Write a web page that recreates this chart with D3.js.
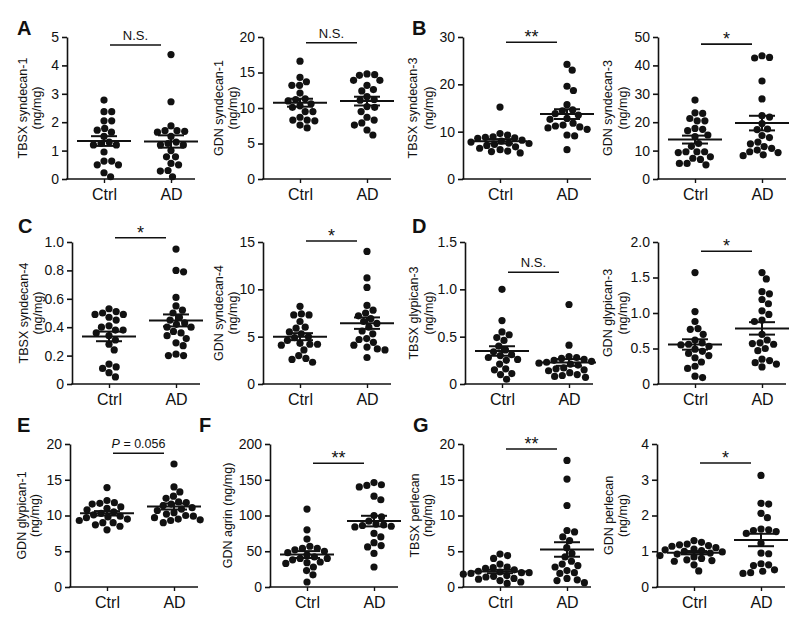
<!DOCTYPE html>
<html>
<head>
<meta charset="utf-8">
<script src="https://cdn.jsdelivr.net/npm/d3@7"></script>
<style>
  body { margin: 0; background: #fff; }
  text { font-family: "Liberation Sans", Arial, sans-serif; fill: #111; }
</style>
</head>
<body>
<svg id="chart" width="800" height="622"></svg>
<script>
// ---- data (ng/mg) ----
const groups = ['Ctrl', 'AD'];

const tbsxSyn1Ctrl = [2.78, 2.37, 2.37, 2.05, 2.05, 1.78, 1.65, 1.72, 1.3, 1.5, 1.25, 1.2, 1.2, 0.95, 0.63, 0.63, 0.5, 0.5, 0.22, 0.08];
const tbsxSyn1AD = [4.38, 2.72, 1.87, 1.7, 1.7, 1.68, 1.65, 1.3, 1.5, 1.2, 1.25, 1.2, 1.0, 0.78, 0.78, 0.55, 0.5, 0.3, 0.28, 0.08];
const gdnSyn1Ctrl = [16.6, 14.3, 13.7, 13.2, 13.2, 12.1, 11.3, 11.2, 11.0, 10.6, 10.3, 10.1, 9.5, 9.5, 8.7, 8.3, 8.3, 8.2, 7.6, 7.2];
const gdnSyn1AD = [14.8, 14.7, 14.6, 13.9, 13.9, 13.2, 12.6, 12.4, 11.6, 11.2, 11.1, 10.2, 10.1, 9.5, 8.7, 8.3, 7.9, 7.6, 6.9, 6.2];
const tbsxSyn3Ctrl = [15.2, 9.6, 9.3, 8.9, 8.8, 8.7, 8.6, 8.2, 8.0, 7.8, 7.6, 7.5, 7.3, 7.1, 6.8, 6.5, 6.2, 5.9, 5.8, 5.5];
const tbsxSyn3AD = [24.2, 23.0, 19.6, 18.7, 15.7, 14.6, 14.4, 13.8, 13.5, 12.8, 12.6, 11.8, 11.4, 11.2, 11.0, 10.8, 10.5, 9.3, 9.1, 6.2];
const gdnSyn3Ctrl = [27.8, 23.1, 23.3, 21.3, 20.5, 20.5, 17.8, 17.5, 17.0, 15.5, 14.9, 12.5, 11.5, 9.6, 9.6, 9.6, 9.3, 7.8, 7.3, 6.9, 5.5, 5.5, 5.0];
const gdnSyn3AD = [43.4, 42.8, 42.6, 34.5, 28.2, 22.3, 21.8, 19.5, 17.6, 17.4, 15.3, 14.6, 13.0, 12.4, 11.4, 10.8, 10.2, 9.6, 9.3, 8.5, 8.2];
const tbsxSyn4Ctrl = [0.53, 0.51, 0.50, 0.49, 0.49, 0.47, 0.45, 0.41, 0.40, 0.38, 0.38, 0.36, 0.34, 0.31, 0.28, 0.24, 0.14, 0.12, 0.11, 0.08, 0.05];
const tbsxSyn4AD = [0.95, 0.80, 0.79, 0.61, 0.55, 0.52, 0.50, 0.47, 0.45, 0.43, 0.42, 0.40, 0.40, 0.37, 0.36, 0.34, 0.32, 0.29, 0.27, 0.21, 0.20, 0.20];
const gdnSyn4Ctrl = [8.2, 7.4, 7.3, 7.3, 6.6, 6.0, 5.9, 5.5, 5.3, 5.0, 4.9, 4.6, 4.3, 4.2, 4.2, 4.1, 3.6, 3.0, 2.7, 2.6, 2.3];
const gdnSyn4AD = [14.0, 11.2, 10.2, 8.3, 7.8, 7.5, 7.2, 6.9, 6.6, 6.4, 6.0, 5.6, 5.3, 4.8, 4.7, 4.4, 4.1, 3.9, 3.7, 3.6, 2.8];
const tbsxGly3Ctrl = [1.0, 0.67, 0.55, 0.52, 0.49, 0.46, 0.36, 0.34, 0.40, 0.30, 0.28, 0.26, 0.31, 0.25, 0.21, 0.16, 0.15, 0.11, 0.10, 0.05];
const tbsxGly3AD = [0.84, 0.41, 0.29, 0.28, 0.27, 0.26, 0.25, 0.24, 0.23, 0.22, 0.21, 0.20, 0.17, 0.16, 0.15, 0.14, 0.12, 0.10, 0.09, 0.08, 0.07];
const gdnGly3Ctrl = [1.57, 1.02, 0.88, 0.78, 0.77, 0.70, 0.62, 0.58, 0.56, 0.55, 0.53, 0.49, 0.46, 0.43, 0.40, 0.37, 0.31, 0.25, 0.22, 0.11, 0.09];
const gdnGly3AD = [1.57, 1.48, 1.30, 1.27, 1.19, 1.13, 1.03, 0.98, 0.90, 0.88, 0.70, 0.62, 0.58, 0.57, 0.56, 0.50, 0.47, 0.35, 0.33, 0.30, 0.28, 0.24];
const gdnGly1Ctrl = [13.9, 12.1, 11.8, 11.7, 11.6, 11.2, 11.0, 10.8, 10.5, 10.3, 10.1, 9.9, 9.8, 9.7, 9.5, 9.3, 9.0, 9.0, 8.7, 8.5, 8.0];
const gdnGly1AD = [17.2, 14.0, 13.3, 12.7, 12.4, 11.9, 11.8, 11.6, 11.4, 11.1, 10.9, 10.7, 10.4, 10.2, 10.0, 9.9, 9.7, 9.5, 9.4, 9.3, 9.0];
const gdnAgrinCtrl = [109, 80, 67, 54, 52, 57, 45, 40, 54, 50, 48, 40, 42, 38, 35, 34, 33, 28, 23, 17, 7];
const gdnAgrinAD = [146, 143, 142, 140, 127, 122, 100, 92, 98, 88, 86, 87, 85, 84, 75, 70, 62, 58, 56, 47, 28];
const tbsxPerlCtrl = [4.6, 4.4, 4.0, 3.2, 2.8, 2.7, 2.6, 2.4, 2.2, 2.1, 2.0, 2.0, 1.9, 1.8, 1.6, 1.5, 1.4, 1.2, 1.1, 0.9, 0.7, 0.5];
const tbsxPerlAD = [17.7, 15.1, 11.4, 7.9, 7.7, 7.0, 6.5, 5.5, 4.2, 2.8, 4.7, 3.6, 3.2, 3.0, 2.3, 2.0, 1.9, 1.2, 1.0, 0.9, 0.6];
const gdnPerlCtrl = [1.30, 1.25, 1.20, 1.18, 1.16, 1.14, 1.10, 1.06, 1.04, 1.02, 1.00, 0.98, 0.95, 0.92, 0.88, 0.84, 0.80, 0.76, 0.74, 0.72, 0.62, 0.45];
const gdnPerlAD = [3.12, 2.34, 2.32, 2.06, 1.94, 1.62, 1.60, 1.58, 1.55, 1.50, 1.22, 0.95, 0.93, 0.65, 0.62, 0.60, 0.48, 0.44, 0.40, 0.38];

// panel titles, y ticks, significance labels (and the value the bar sits at)
const letters = ['A', '', 'B', '', 'C', '', 'D', '', 'E', 'F', 'G', ''];
const yTitles = [
  ['TBSX syndecan-1', '(ng/mg)'], ['GDN syndecan-1', '(ng/mg)'], ['TBSX syndecan-3', '(ng/mg)'], ['GDN syndecan-3', '(ng/mg)'],
  ['TBSX syndecan-4', '(ng/mg)'], ['GDN syndecan-4', '(ng/mg)'], ['TBSX glypican-3', '(ng/mg)'], ['GDN glypican-3', '(ng/mg)'],
  ['GDN glypican-1', '(ng/mg)'], ['GDN agrin (ng/mg)'], ['TBSX perlecan', '(ng/mg)'], ['GDN perlecan', '(ng/mg)']
];
const yTicks = [
  [0, 1, 2, 3, 4, 5], [0, 5, 10, 15, 20], [0, 10, 20, 30], [0, 10, 20, 30, 40, 50],
  [0, 0.2, 0.4, 0.6, 0.8, 1.0], [0, 5, 10, 15], [0, 0.5, 1.0, 1.5], [0, 0.5, 1.0, 1.5, 2.0],
  [0, 5, 10, 15, 20], [0, 50, 100, 150, 200], [0, 5, 10, 15, 20], [0, 1, 2, 3, 4]
];
const yTickLabels = [
  ['0', '1', '2', '3', '4', '5'], ['0', '5', '10', '15', '20'], ['0', '10', '20', '30'], ['0', '10', '20', '30', '40', '50'],
  ['0', '0.2', '0.4', '0.6', '0.8', '1.0'], ['0', '5', '10', '15'], ['0', '0.5', '1.0', '1.5'], ['0', '0.5', '1.0', '1.5', '2.0'],
  ['0', '5', '10', '15', '20'], ['0', '50', '100', '150', '200'], ['0', '5', '10', '15', '20'], ['0', '1', '2', '3', '4']
];
const sigLabels = ['N.S.', 'N.S.', '**', '*', '*', '*', 'N.S.', '*', 'P = 0.056', '**', '**', '*'];
const sigLevels = [4.72, 19.2, 28.9, 47.5, 1.03, 15.1, 1.18, 1.87, 18.7, 173, 19.3, 3.47];

const values = [
  [tbsxSyn1Ctrl, tbsxSyn1AD], [gdnSyn1Ctrl, gdnSyn1AD], [tbsxSyn3Ctrl, tbsxSyn3AD], [gdnSyn3Ctrl, gdnSyn3AD],
  [tbsxSyn4Ctrl, tbsxSyn4AD], [gdnSyn4Ctrl, gdnSyn4AD], [tbsxGly3Ctrl, tbsxGly3AD], [gdnGly3Ctrl, gdnGly3AD],
  [gdnGly1Ctrl, gdnGly1AD], [gdnAgrinCtrl, gdnAgrinAD], [tbsxPerlCtrl, tbsxPerlAD], [gdnPerlCtrl, gdnPerlAD]
];

// ---- layout ----
const rows = [{ top: 37, bottom: 179 }, { top: 242, bottom: 384 }, { top: 444, bottom: 587 }];
const layout = [
  { row: 0, ax: 67, lab: [-44, -30], letter: [17, 35] },
  { row: 0, ax: 263, lab: [-44, -30] },
  { row: 0, ax: 463, lab: [-50, -34], letter: [412, 35] },
  { row: 0, ax: 658, lab: [-50, -35] },
  { row: 1, ax: 72, lab: [-48, -34], letter: [18, 233] },
  { row: 1, ax: 263, lab: [-44, -30] },
  { row: 1, ax: 465, lab: [-51, -36], letter: [412, 233] },
  { row: 1, ax: 658, lab: [-50, -35] },
  { row: 2, ax: 70, lab: [-48, -35], letter: [17, 432] },
  { row: 2, ax: 270, lab: [-42], letter: [199, 432] },
  { row: 2, ax: 463, lab: [-48, -35], letter: [413, 432] },
  { row: 2, ax: 657, lab: [-48, -34] }
];
const plotW = 128;
const dotR = 3.6;

const svg = d3.select('#chart');

// simple beeswarm: place each dot at the x offset closest to centre that does not overlap
function swarm(ys, r) {
  const d = 2 * r + 0.5;
  const order = d3.range(ys.length).sort((a, b) => d3.ascending(ys[a], ys[b]));
  const placed = [];
  const xs = new Array(ys.length);
  order.forEach(i => {
    const y = ys[i];
    const near = placed.filter(p => Math.abs(p.y - y) < d);
    const cands = [0];
    near.forEach(p => {
      const dx = Math.sqrt(d * d - (p.y - y) ** 2);
      cands.push(p.x + dx, p.x - dx);
    });
    cands.sort((a, b) => Math.abs(a) - Math.abs(b));
    const x = cands.find(c => near.every(p => (p.x - c) ** 2 + (p.y - y) ** 2 >= d * d - 0.01));
    xs[i] = x;
    placed.push({ x, y });
  });
  return xs;
}

values.forEach((vals, i) => {
  const L = layout[i];
  const R = rows[L.row];
  const ticks = yTicks[i];
  const g = svg.append('g').attr('transform', `translate(${L.ax},0)`);

  const y = d3.scaleLinear().domain([0, ticks[ticks.length - 1]]).range([R.bottom, R.top]);
  const x = d3.scalePoint().domain(groups).range([37, 104]);

  // y axis
  const yAxis = g.append('g')
    .call(d3.axisLeft(y).tickValues(ticks).tickFormat((d, j) => yTickLabels[i][j]).tickSize(5).tickSizeOuter(0).tickPadding(3));
  yAxis.selectAll('path, line').attr('stroke', '#111').attr('stroke-width', 1.6);
  yAxis.selectAll('text').attr('font-size', 14).attr('fill', '#111')
    .style('font-family', '"Liberation Sans", Arial, sans-serif');

  // x axis
  g.append('line')
    .attr('x1', -0.8).attr('x2', plotW).attr('y1', R.bottom).attr('y2', R.bottom)
    .attr('stroke', '#111').attr('stroke-width', 1.6);
  const xAxis = g.append('g').attr('transform', `translate(0,${R.bottom})`)
    .call(d3.axisBottom(x).tickSize(4).tickPadding(6));
  xAxis.select('.domain').remove();
  xAxis.selectAll('line').attr('stroke', '#111').attr('stroke-width', 1.4);
  xAxis.selectAll('text').attr('font-size', 16).attr('fill', '#111')
    .style('font-family', '"Liberation Sans", Arial, sans-serif');

  // y title
  const midY = (R.top + R.bottom) / 2;
  yTitles[i].forEach((t, k) => {
    g.append('text')
      .attr('transform', `translate(${L.lab[k]},${midY}) rotate(-90)`)
      .attr('text-anchor', 'middle')
      .attr('dominant-baseline', 'central')
      .attr('font-size', 12.5)
      .text(t);
  });

  // dots, mean and SEM
  groups.forEach((grp, gi) => {
    const v = vals[gi];
    const cx = x(grp);
    const ys = v.map(d => y(d));
    const offs = swarm(ys, dotR);
    g.append('g').selectAll('circle').data(v).join('circle')
      .attr('cx', (d, j) => cx + offs[j])
      .attr('cy', d => y(d))
      .attr('r', dotR)
      .attr('fill', '#111');

    const m = d3.mean(v);
    const sem = d3.deviation(v) / Math.sqrt(v.length);
    const ln = (x1, x2, y1, y2) => g.append('line')
      .attr('x1', x1).attr('x2', x2).attr('y1', y1).attr('y2', y2)
      .attr('stroke', '#111').attr('stroke-width', 2);
    ln(cx - 27, cx + 27, y(m), y(m));
    ln(cx - 13, cx + 13, y(m + sem), y(m + sem));
    ln(cx - 13, cx + 13, y(m - sem), y(m - sem));
    ln(cx, cx, y(m + sem), y(m - sem));
  });

  // significance bar
  const by = y(sigLevels[i]);
  g.append('line')
    .attr('x1', 43).attr('x2', 94).attr('y1', by).attr('y2', by)
    .attr('stroke', '#111').attr('stroke-width', 1.6);
  const lab = sigLabels[i];
  const st = g.append('text').attr('x', 68.5).attr('text-anchor', 'middle');
  if (lab.startsWith('*')) {
    st.attr('y', by + 1).attr('font-size', 18).text(lab);
  } else if (lab.startsWith('P')) {
    st.attr('y', by - 5).attr('font-size', 12.5);
    st.append('tspan').attr('font-style', 'italic').text('P');
    st.append('tspan').text(lab.slice(1));
  } else {
    st.attr('y', by - 5).attr('font-size', 13).text(lab);
  }

  // panel letter
  if (letters[i]) {
    svg.append('text')
      .attr('x', L.letter[0]).attr('y', L.letter[1])
      .attr('font-size', 20).attr('font-weight', 'bold')
      .text(letters[i]);
  }
});
</script>
</body>
</html>
